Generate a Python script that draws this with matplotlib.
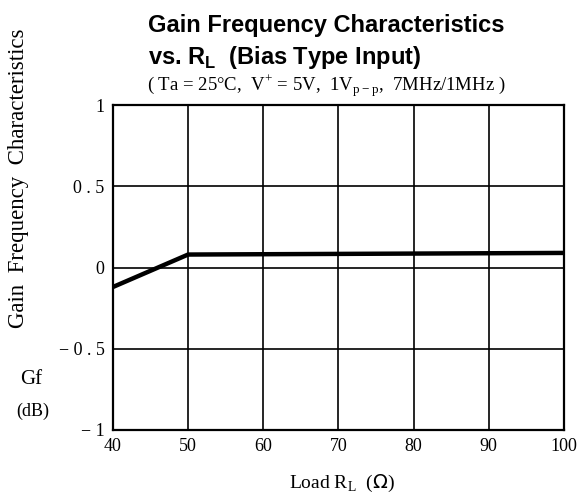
import matplotlib
matplotlib.use('Agg')
import matplotlib.pyplot as plt

# values
load_rl = [40, 50, 100]
gain_db = [-0.12, 0.08, 0.09]
x_ticks = [40, 50, 60, 70, 80, 90, 100]
y_ticks = [-1, -0.5, 0, 0.5, 1]
y_tick_labels = ['\u2212 1', '\u2212 0 . 5', '0', '0 . 5', '1']

serif = 'Liberation Serif'
sans = 'Liberation Sans'

fig = plt.figure(figsize=(5.79, 5.01), dpi=100)
ax = fig.add_axes([0.195, 0.142, 0.779, 0.648])

ax.plot(load_rl, gain_db, color='black', linewidth=3.2, solid_capstyle='butt')

ax.set_xlim(40, 100)
ax.set_ylim(-1, 1)
ax.set_xticks(x_ticks)
ax.set_yticks(y_ticks)
ax.set_yticklabels(y_tick_labels)
ax.grid(True, color='black', linewidth=1.2)
ax.tick_params(length=0, pad=6, labelsize=13)
for lbl in ax.get_xticklabels() + ax.get_yticklabels():
    lbl.set_fontfamily(serif)
for s in ax.spines.values():
    s.set_linewidth(1.6)

fig.text(0.255, 0.95, 'Gain Frequency Characteristics', fontsize=17, fontweight='bold',
         family=sans, ha='left', va='center')
fig.text(0.255, 0.885, r'vs. R$_{\mathregular{L}}$  (Bias Type Input)', fontsize=17,
         fontweight='bold', family=sans, ha='left', va='center')
fig.text(0.254, 0.828, r'( Ta = 25°C,  V$^{\mathregular{+}}$ = 5V,  1V$_{\mathregular{p-p}}$,  7MHz/1MHz )',
         fontsize=13.5, family=serif, ha='left', va='center')

fig.text(0.032, 0.645, 'Gain  Frequency  Characteristics', fontsize=16.5, family=serif,
         rotation=90, ha='center', va='center')
fig.text(0.054, 0.242, 'Gf', fontsize=15, family=serif, ha='center', va='center')
fig.text(0.057, 0.178, '(dB)', fontsize=13, family=serif, ha='center', va='center')
fig.text(0.59, 0.035, r'Load R$_{\mathregular{L}}$  ($\Omega$)', fontsize=14, family=serif,
         ha='center', va='center')

fig.savefig('out.png', dpi=100, facecolor='white')
